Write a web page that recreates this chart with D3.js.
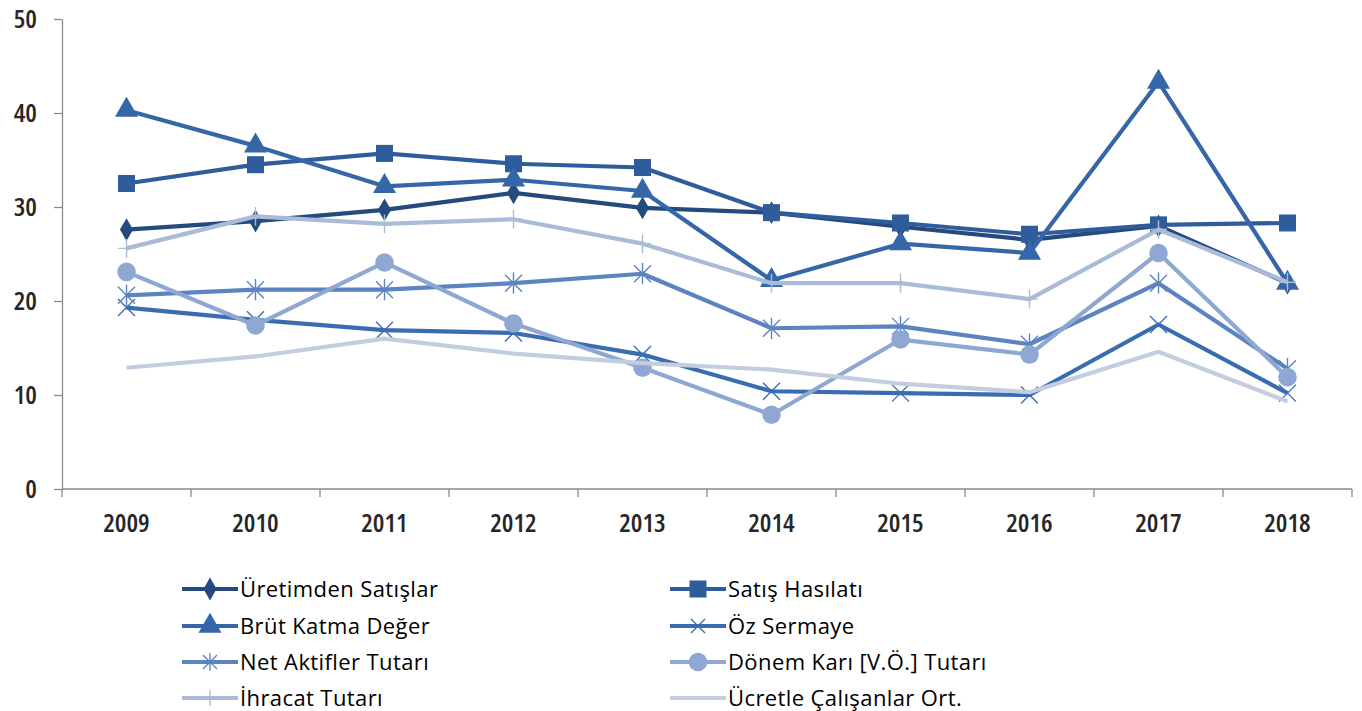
<!DOCTYPE html>
<html>
<head>
<meta charset="utf-8">
<script src="https://cdn.jsdelivr.net/npm/d3@7"></script>
<style>
  body { margin: 0; background: #fff; }
  text { font-family: "Open Sans", "DejaVu Sans", sans-serif; }
  .axis-label { font-size: 26px; font-stretch: 85%; font-weight: 600; }
  .legend-label { font-size: 22px; font-weight: 500; letter-spacing: 0.4px; }
</style>
</head>
<body>
<div id="chart"></div>
<script>
/* values */
let years = ["2009", "2010", "2011", "2012", "2013", "2014", "2015", "2016", "2017", "2018"];
let yTicks = [0, 10, 20, 30, 40, 50];

let seriesNames = ["Üretimden Satışlar", "Satış Hasılatı", "Brüt Katma Değer", "Öz Sermaye",
    "Net Aktifler Tutarı", "Dönem Karı [V.Ö.] Tutarı", "İhracat Tutarı", "Ücretle Çalışanlar Ort."];

let uretimden = [27.6, 28.5, 29.7, 31.5, 29.9, 29.4, 27.9, 26.5, 28.0, 21.9];
let satis     = [32.5, 34.5, 35.7, 34.6, 34.2, 29.4, 28.3, 27.1, 28.1, 28.3];
let brut      = [40.3, 36.5, 32.2, 32.9, 31.7, 22.2, 26.1, 25.1, 43.3, 21.9];
let ozSermaye = [19.3, 18.0, 16.9, 16.6, 14.3, 10.4, 10.2, 10.0, 17.5, 10.2];
let netAktif  = [20.6, 21.2, 21.2, 21.9, 22.9, 17.1, 17.3, 15.4, 21.9, 12.8];
let donemKari = [23.1, 17.4, 24.1, 17.6, 12.9, 7.9, 15.9, 14.3, 25.1, 11.9];
let ihracat   = [25.6, 29.0, 28.2, 28.7, 26.1, 21.9, 21.9, 20.2, 27.6, 22.0];
let ucretle   = [12.9, 14.1, 16.0, 14.4, 13.4, 12.7, 11.2, 10.3, 14.6, 9.3];

let seriesValues = [uretimden, satis, brut, ozSermaye, netAktif, donemKari, ihracat, ucretle];

// styling per series (same order as names)
let colors = ["#244a7e", "#2f5d9b", "#3566a8", "#3a6cb0", "#5b84c0", "#8ea7d3", "#aabbd7", "#c3cde0"];
let markers = ["diamond", "square", "triangle", "times", "star", "circle", "plus", "none"];

let width = 1362, height = 711;
let margin = {left: 62, right: 10, top: 19, bottom: 222};

let svg = d3.select("#chart")
    .append("svg")
    .attr("width", width)
    .attr("height", height);

let x = d3.scaleBand()
    .domain(years)
    .range([margin.left, 1352]);

let y = d3.scaleLinear()
    .domain([0, 50])
    .range([height - margin.bottom, margin.top]);

// y axis
let yAxis = svg.append("g")
    .attr("transform", `translate(${margin.left}, 0)`)
    .call(d3.axisLeft(y).tickValues(yTicks).tickSize(8).tickSizeOuter(0).tickPadding(17));
yAxis.select(".domain").attr("stroke", "#8a8a8a").attr("stroke-width", 1.3);
yAxis.selectAll(".tick line").attr("stroke", "#8a8a8a").attr("stroke-width", 1.3);
yAxis.selectAll("text")
    .attr("class", "axis-label")
    .attr("font-family", null)
    .attr("font-size", null)
    .attr("fill", "#262626");

// x axis: line plus ticks at band edges
let xAxis = svg.append("g").attr("transform", `translate(0, ${y(0)})`);
xAxis.append("line")
    .attr("x1", x.range()[0]).attr("x2", x.range()[1])
    .attr("stroke", "#8a8a8a").attr("stroke-width", 1.3);
let edges = years.map(d => x(d)).concat([x(years[years.length - 1]) + x.step()]);
xAxis.selectAll(".edge").data(edges).enter()
    .append("line")
    .attr("x1", d => d).attr("x2", d => d)
    .attr("y1", 0).attr("y2", 8)
    .attr("stroke", "#8a8a8a").attr("stroke-width", 1.3);
xAxis.selectAll(".yr").data(years).enter()
    .append("text")
    .attr("class", "axis-label")
    .attr("x", d => x(d) + x.bandwidth() / 2)
    .attr("y", 43)
    .attr("text-anchor", "middle")
    .attr("fill", "#262626")
    .text(d => d);

function markerPath(type, s) {
    let h = s / 2;
    if (type === "times") return `M${-h},${-h}L${h},${h}M${-h},${h}L${h},${-h}`;
    if (type === "star") return `M${-h},${-h}L${h},${h}M${-h},${h}L${h},${-h}M0,${-h * 1.25}L0,${h * 1.25}`;
    if (type === "plus") return `M${-h},0L${h},0M0,${-h * 1.1}L0,${h * 1.1}`;
    let sym = {diamond: d3.symbolDiamond, square: d3.symbolSquare, triangle: d3.symbolTriangle, circle: d3.symbolCircle}[type];
    let area = {diamond: 150, square: 290, triangle: 230, circle: 270}[type];
    return d3.symbol().type(sym).size(area)();
}

let line = d3.line()
    .x((d, i) => x(years[i]) + x.bandwidth() / 2)
    .y(d => y(d));

seriesValues.forEach(function(vals, k) {
    let g = svg.append("g");
    g.append("path")
        .datum(vals)
        .attr("d", line)
        .attr("fill", "none")
        .attr("stroke", colors[k])
        .attr("stroke-width", 4.2)
        .attr("stroke-linejoin", "round");
    if (markers[k] === "none") return;
    let stroked = ["times", "star", "plus"].includes(markers[k]);
    g.selectAll("path.m").data(vals).enter()
        .append("path")
        .attr("class", "m")
        .attr("transform", (d, i) => `translate(${x(years[i]) + x.bandwidth() / 2}, ${y(d)})`)
        .attr("d", markerPath(markers[k], 17))
        .attr("fill", stroked ? "none" : colors[k])
        .attr("stroke", stroked ? colors[k] : "none")
        .attr("stroke-width", 1.4);
});

// legend, two columns, row-major
let legend = svg.append("g");
let colX = [182, 670];
let rowY = [589, 626, 662, 698];
seriesNames.forEach(function(name, k) {
    let lx = colX[k % 2], ly = rowY[Math.floor(k / 2)];
    let g = legend.append("g").attr("transform", `translate(${lx}, ${ly})`);
    g.append("line")
        .attr("x1", 0).attr("x2", 56)
        .attr("stroke", colors[k]).attr("stroke-width", 4);
    if (markers[k] !== "none") {
        let stroked = ["times", "star", "plus"].includes(markers[k]);
        g.append("path")
            .attr("transform", "translate(28, 0)")
            .attr("d", markerPath(markers[k], 14))
            .attr("fill", stroked ? "none" : colors[k])
            .attr("stroke", stroked ? colors[k] : "none")
            .attr("stroke-width", 1.4);
    }
    g.append("text")
        .attr("class", "legend-label")
        .attr("x", 58)
        .attr("y", 0)
        .attr("dy", "0.36em")
        .attr("fill", "#000")
        .text(name);
});
</script>
</body>
</html>
